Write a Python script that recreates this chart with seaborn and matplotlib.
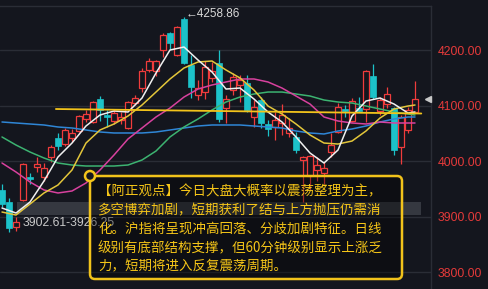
import numpy as np
import pandas as pd
import matplotlib
matplotlib.use("Agg")
import matplotlib.pyplot as plt
import seaborn as sns
from matplotlib.patches import FancyBboxPatch, Circle, Rectangle
from matplotlib.transforms import IdentityTransform

# ---------------- data ----------------
opens = [3947.8, 3926.1, 3881.1, 3929.7, 3971.2, 3989.2, 3971.2, 4007.2, 4041.4, 4030.6,
         4041.4, 4054.1, 4075.7, 4070.3, 4111.7, 4082.9, 4072.1, 4073.9, 4059.5, 4104.5,
         4131.5, 4164.0, 4162.2, 4200.0, 4230.6, 4191.0, 4255.9, 4173.0, 4118.9, 4124.3,
         4149.6, 4176.6, 4095.5, 4127.9, 4137.0, 4140.6, 4079.3, 4109.9, 4066.7, 4061.3,
         4068.5, 4050.5, 4043.3, 4001.8, 3973.0, 3983.8, 3978.4, 4016.2, 4052.3, 4093.7,
         4072.1, 4095.5, 4093.7, 4153.2, 4090.1, 4102.7, 4095.5, 4025.2, 4055.9, 4088.3]
highs = [3958.6, 3933.3, 3899.1, 3996.4, 3978.4, 4007.2, 3996.4, 4028.8, 4050.5, 4059.5,
         4057.7, 4082.9, 4091.9, 4108.1, 4117.1, 4091.9, 4091.9, 4088.3, 4108.1, 4118.9,
         4167.6, 4185.6, 4182.0, 4230.6, 4232.4, 4243.3, 4258.86, 4191.0, 4146.0, 4180.2,
         4178.4, 4200.0, 4118.9, 4158.6, 4155.0, 4155.0, 4109.9, 4115.3, 4073.9, 4088.3,
         4102.7, 4077.5, 4052.3, 4009.0, 4010.8, 4007.2, 3998.2, 4050.5, 4104.5, 4100.9,
         4113.5, 4115.3, 4164.0, 4174.8, 4115.3, 4133.3, 4097.3, 4082.9, 4097.3, 4144.2]
lows = [3917.1, 3872.1, 3873.9, 3927.9, 3958.6, 3980.2, 3964.0, 3998.2, 4019.8, 4027.0,
        4034.2, 4052.3, 4070.3, 4068.5, 4072.1, 4061.3, 4066.7, 4066.7, 4057.7, 4100.9,
        4124.3, 4160.4, 4153.2, 4187.4, 4201.8, 4189.2, 4174.8, 4113.5, 4109.9, 4111.7,
        4142.4, 4070.3, 4068.5, 4118.9, 4106.3, 4088.3, 4061.3, 4059.5, 4045.1, 4037.9,
        4046.9, 4043.3, 4014.4, 3926.1, 3947.8, 3964.0, 3958.6, 4007.2, 4050.5, 4079.3,
        4070.3, 4088.3, 4070.3, 4111.7, 4082.9, 4095.5, 4010.8, 3994.6, 4050.5, 4086.5]
closes = [3922.5, 3879.3, 3890.1, 3994.6, 3967.6, 3994.6, 3987.4, 4025.2, 4027.0, 4055.9,
          4050.5, 4081.1, 4084.7, 4106.3, 4091.9, 4079.3, 4086.5, 4079.3, 4106.3, 4113.5,
          4162.2, 4180.2, 4180.2, 4227.0, 4212.6, 4241.5, 4176.6, 4133.3, 4131.5, 4169.4,
          4162.2, 4075.7, 4111.7, 4151.4, 4146.0, 4091.9, 4097.3, 4068.5, 4057.7, 4073.9,
          4082.9, 4059.5, 4019.8, 4007.2, 4009.0, 3992.8, 3987.4, 4028.8, 4097.3, 4090.1,
          4108.1, 4090.1, 4162.2, 4115.3, 4109.9, 4120.7, 4019.8, 4079.3, 4091.9, 4111.7]

ma_idx = [0, 2, 4, 6, 8, 10, 12, 14, 16, 18, 20, 22, 24, 26, 28, 30, 32, 34, 36, 38,
          40, 42, 44, 46, 48, 50, 52, 54, 56, 58, 59]
ma5 = [3915.3, 3906.3, 3926.1, 3964.0, 4007.2, 4032.4, 4063.1, 4082.9, 4090.1, 4088.3,
       4113.5, 4158.6, 4200.0, 4205.4, 4182.0, 4160.4, 4129.7, 4131.5, 4111.7, 4088.3,
       4070.3, 4043.3, 4014.4, 3996.4, 4019.8, 4081.1, 4108.1, 4113.5, 4102.7, 4086.5, 4088.3]
ma10 = [3908.1, 3902.7, 3922.5, 3942.4, 3956.8, 3983.8, 4032.4, 4055.9, 4066.7, 4081.1,
        4100.9, 4124.3, 4147.8, 4167.6, 4178.4, 4180.2, 4164.0, 4149.6, 4127.9, 4099.1,
        4084.7, 4066.7, 4046.9, 4032.4, 4030.6, 4036.0, 4054.1, 4077.5, 4093.7, 4099.1, 4100.9]
ma20 = [3996.4, 3980.2, 3962.2, 3947.8, 3942.4, 3946.0, 3960.4, 3983.8, 4010.8, 4039.7,
        4059.5, 4079.3, 4095.5, 4115.3, 4129.7, 4137.0, 4142.4, 4147.8, 4147.8, 4142.4,
        4131.5, 4117.1, 4102.7, 4079.3, 4072.1, 4068.5, 4066.7, 4070.3, 4068.5, 4068.5, 4068.5]
ma30 = [4043.3, 4028.8, 4016.2, 4005.4, 3996.4, 3992.8, 3991.0, 3991.0, 3991.0, 3992.8,
        4001.8, 4018.0, 4043.3, 4061.3, 4075.7, 4091.9, 4106.3, 4115.3, 4120.7, 4124.3,
        4124.3, 4120.7, 4117.1, 4109.9, 4106.3, 4104.5, 4099.1, 4093.7, 4088.3, 4084.7, 4082.9]
ma60 = [4070.3, 4068.5, 4066.7, 4064.9, 4061.3, 4059.5, 4055.9, 4052.3, 4050.5, 4050.5,
        4050.5, 4052.3, 4055.9, 4059.5, 4063.1, 4064.9, 4064.9, 4064.9, 4063.1, 4061.3,
        4059.5, 4054.1, 4050.5, 4048.7, 4054.1, 4057.7, 4063.1, 4070.3, 4075.7, 4079.3, 4079.3]

trend_idx = [7.7, 59.9]
trend_val = [4093.7, 4085.6]
band_range = [3902.61, 3926.25]
band_label = "3902.61-3926.25"
peak_label = "\u2190" + "4258.86"
last_price = 4111.7
yticks = [3800, 3900, 4000, 4100, 4200]
note_lines = [
    "【阿正观点】今日大盘大概率以震荡整理为主，",
    "多空博弈加剧，短期获利了结与上方抛压仍需消",
    "化。沪指将呈现冲高回落、分歧加剧特征。日线",
    "级别有底部结构支撑，但60分钟级别显示上涨乏",
    "力，短期将进入反复震荡周期。",
]

# ---------------- style ----------------
BG = "#14161e"
GRID = "#2a2d36"
RED = "#f03c3c"
CYAN = "#1cc2c9"
GOLD = "#f2c31b"

sns.set_theme(style="dark", rc={"axes.facecolor": BG, "figure.facecolor": BG})
plt.rcParams["font.family"] = ["Liberation Sans", "DejaVu Sans"]

W, H = 489, 289
fig = plt.figure(figsize=(W / 100, H / 100), dpi=100)
ax = fig.add_axes([0, 0, 431 / W, 1 - 6 / H])
x0 = -2 / 7
ax.set_xlim(x0, x0 + 431 / 7)
ax.set_ylim(3769.4, 4279.3)

# grid / spines
ax.set_yticks(yticks)
ax.set_yticklabels([f"{v:.2f}" for v in yticks])
ax.yaxis.tick_right()
ax.tick_params(axis="y", length=0, pad=5, labelcolor="#e53a3a", labelsize=8.8)
ax.set_xticks([])
ax.grid(axis="y", color=GRID, lw=1)
ax.grid(axis="x", visible=False)
for s in ["left", "bottom"]:
    ax.spines[s].set_visible(False)
for s in ["top", "right"]:
    ax.spines[s].set_visible(True)
    ax.spines[s].set_color(GRID)
    ax.spines[s].set_linewidth(1)

# highlighted band
ax.add_patch(Rectangle((2.2, band_range[0]), 57.7, band_range[1] - band_range[0],
                       facecolor="#8c919b", alpha=0.28, lw=0, zorder=1.5))

# candles
o = np.array(opens); h = np.array(highs); l = np.array(lows); c = np.array(closes)
idx = np.arange(len(o))
up = c >= o
dn = ~up
bw = 0.72
ax.bar(idx[up], (c - o)[up], bottom=o[up], width=bw, facecolor=BG,
       edgecolor=RED, linewidth=0.9, zorder=2)
ax.vlines(idx[up], c[up], h[up], color=RED, lw=0.9, zorder=2)
ax.vlines(idx[up], l[up], o[up], color=RED, lw=0.9, zorder=2)
ax.vlines(idx[dn], l[dn], h[dn], color=CYAN, lw=0.9, zorder=2)
ax.bar(idx[dn], (o - c)[dn], bottom=c[dn], width=bw, color=CYAN,
       edgecolor=CYAN, linewidth=0.5, zorder=2.1)

# moving averages
ma_df = pd.DataFrame({"idx": ma_idx, "MA5": ma5, "MA10": ma10, "MA20": ma20,
                      "MA30": ma30, "MA60": ma60})
ma_colors = {"MA60": "#2f86d6", "MA30": "#3cb371", "MA20": "#d8419e",
             "MA10": "#e3c63a", "MA5": "#f0f0f0"}
for name, col in ma_colors.items():
    sns.lineplot(data=ma_df, x="idx", y=name, color=col, lw=1.1, ax=ax,
                 sort=False, legend=False, zorder=3)
sns.lineplot(x=trend_idx, y=trend_val, color=GOLD, lw=1.3, ax=ax, zorder=3)
ax.set_xlabel("")
ax.set_ylabel("")
ax.set_xlim(x0, x0 + 431 / 7)
ax.set_ylim(3769.4, 4279.3)

# labels
ax.text(26.2, 4264.9, peak_label, color="#d8d8d8", fontsize=8.5,
        va="center", ha="left", zorder=5)
ax.text(3.0, 3888.3, band_label, color="#c9c9c9", fontsize=8.8,
        va="center", ha="left", zorder=5)
ax.plot([60.85], [last_price], marker="<", ms=5, color="#c8c8c8",
        clip_on=False, zorder=5, lw=0)

# note box (pixel coordinates)
tr = IdentityTransform()
box = FancyBboxPatch((90, H - 279), 312, 103, boxstyle="round,pad=0,rounding_size=5",
                     facecolor=(0, 0, 0, 0.35), edgecolor=GOLD, lw=1.8, transform=tr)
fig.add_artist(box)
fig.add_artist(Circle((90, H - 176), 5, facecolor=BG, edgecolor=GOLD, lw=1.8, transform=tr))
ys = [191, 210, 229, 248, 266]
for line, yy in zip(note_lines, ys):
    fig.text(98 / W, 1 - yy / H, line, fontsize=9.7, color="#f5c518",
             family=["Noto Sans CJK SC", "DejaVu Sans"], va="center", ha="left")

fig.savefig("out.png", dpi=100, facecolor=BG)
